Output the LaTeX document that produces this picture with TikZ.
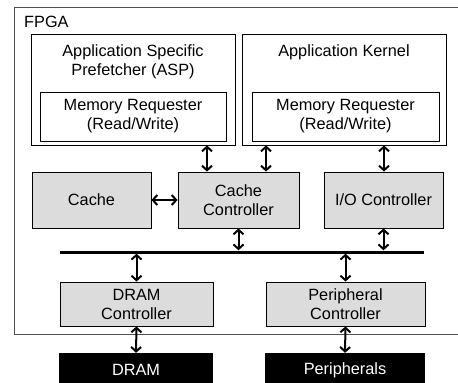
\documentclass[tikz,border=0pt]{standalone}
\usepackage{fontspec}
\setmainfont{Liberation Sans}
\usetikzlibrary{arrows.meta}
\definecolor{unitgray}{HTML}{DCDCDC}
\definecolor{framegray}{HTML}{505050}
\begin{document}
\begin{tikzpicture}[x=1pt,y=-1pt,
  font=\fontsize{16.3}{19}\selectfont,
  box/.style={draw, line width=0.9pt, inner sep=0pt, align=center},
  unit/.style={box, fill=unitgray},
  ext/.style={fill=black, text=white, inner sep=0pt},
  label text/.style={inner sep=0pt, align=center},
  link/.style={line width=2pt,
    {Straight Barb[length=4.5pt,width=10pt]}-{Straight Barb[length=4.5pt,width=10pt]}},
]
\useasboundingbox (0,0) rectangle (458,383);
\begin{scope}
\clip (0,0) rectangle (458,383);

% FPGA boundary (runs past the right and lower edges)
\draw[line width=0.9pt, draw=framegray] (14,7) rectangle (470,334);
\node[label text, anchor=base west] (fpga) at (24,27.3) {FPGA};

% Application blocks with their memory requesters
\node[box, minimum width=204pt, minimum height=111pt] (asp) at (133,89.5) {};
\node[label text, anchor=north] (asptitle) at ([yshift=-11pt]asp.north)
  {Application Specific\\Prefetcher (ASP)};
\node[box, minimum width=186pt, minimum height=49pt] (aspmem) at (133,116.5)
  {Memory Requester\\(Read/Write)};

\node[box, minimum width=204pt, minimum height=111pt] (kernel) at (344,89.5) {};
\node[label text, anchor=north] (kerneltitle) at ([yshift=-11pt]kernel.north)
  {Application Kernel};
\node[box, minimum width=187pt, minimum height=49pt] (kernelmem) at (345.5,116.5)
  {Memory Requester\\(Read/Write)};

% On-chip units
\node[unit, minimum width=119pt, minimum height=56pt] (cache) at (91.5,200) {Cache};
\node[unit, minimum width=121pt, minimum height=56pt] (ccache) at (238.5,200) {Cache\\Controller};
\node[unit, minimum width=119pt, minimum height=56pt] (io) at (383.5,200) {I/O Controller};

% Shared bus
\node[fill=black, inner sep=0pt, minimum width=364pt, minimum height=3pt] (bus) at (242,252) {};

\node[unit, minimum width=153pt, minimum height=44pt] (dramctl) at (136.5,304) {DRAM\\Controller};
\node[unit, minimum width=159pt, minimum height=44pt] (periphctl) at (345.5,304) {Peripheral\\Controller};

% Off-chip devices
\node[ext, minimum width=154pt, minimum height=34pt] (dram) at (136,370) {DRAM};
\node[ext, minimum width=160pt, minimum height=34pt] (periph) at (345,370) {Peripherals};

% Connections
\draw[link] ([xshift=74pt]asp.south) -- ([xshift=74pt]asp.south |- ccache.north);
\draw[link] ([xshift=-78pt]kernel.south) -- ([xshift=-78pt]kernel.south |- ccache.north);
\draw[link] ([xshift=40pt]kernel.south) -- ([xshift=40pt]kernel.south |- io.north);
\draw[link] (cache.east) -- (ccache.west);
\draw[link] (ccache.south) -- (ccache.south |- bus.north);
\draw[link] (io.south) -- (io.south |- bus.north);
\draw[link] (dramctl.north |- bus.south) -- (dramctl.north);
\draw[link] (periphctl.north |- bus.south) -- (periphctl.north);
\draw[link] (dramctl.south) -- (dram.north);
\draw[link] (periphctl.south) -- (periph.north);
\end{scope}
\end{tikzpicture}
\end{document}
